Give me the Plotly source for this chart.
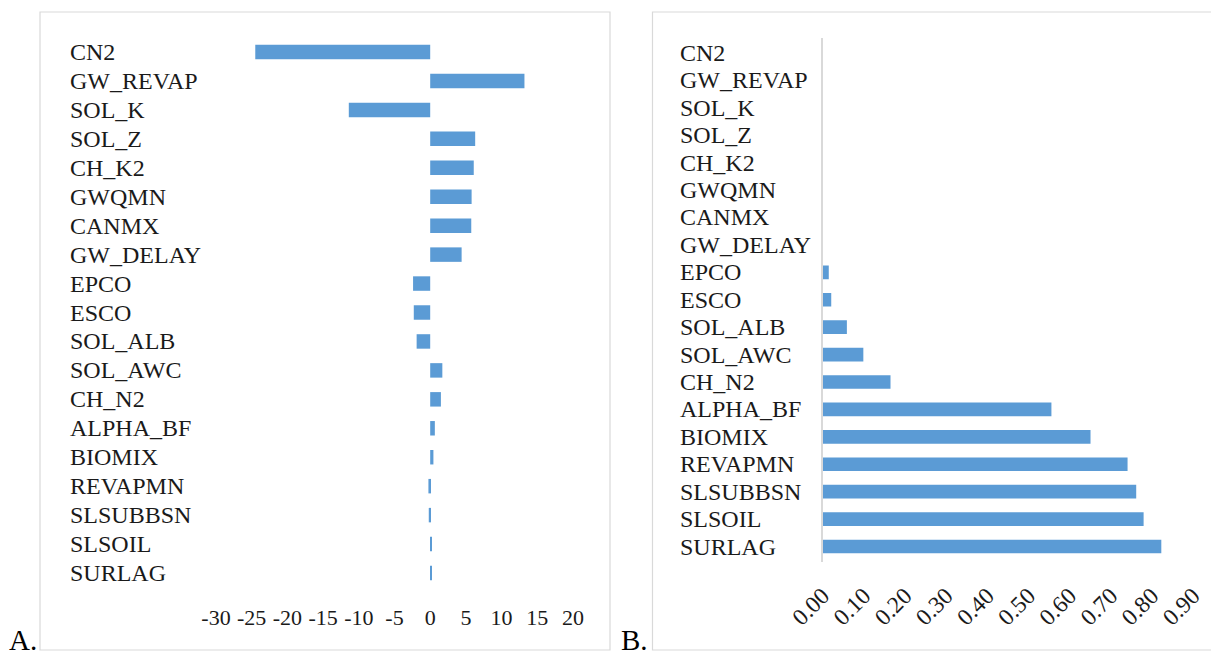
import plotly.graph_objects as go

W, H = 1211, 655

categories = ["CN2", "GW_REVAP", "SOL_K", "SOL_Z", "CH_K2", "GWQMN", "CANMX", "GW_DELAY",
              "EPCO", "ESCO", "SOL_ALB", "SOL_AWC", "CH_N2", "ALPHA_BF", "BIOMIX",
              "REVAPMN", "SLSUBBSN", "SLSOIL", "SURLAG"]
t_stat = [-24.5, 13.2, -11.4, 6.3, 6.1, 5.8, 5.75, 4.4,
          -2.4, -2.3, -1.9, 1.7, 1.5, 0.65, 0.45,
          -0.25, -0.2, 0.25, 0.2]
p_value = [0.0, 0.0, 0.0, 0.0, 0.0, 0.0, 0.0, 0.0,
           0.015, 0.021, 0.059, 0.099, 0.165, 0.556, 0.651,
           0.741, 0.762, 0.78, 0.823]
a_ticks = [-30, -25, -20, -15, -10, -5, 0, 5, 10, 15, 20]
a_ticktext = [str(v) for v in a_ticks]
b_ticks = [0.0, 0.1, 0.2, 0.3, 0.4, 0.5, 0.6, 0.7, 0.8, 0.9]

BLUE = "#5B9BD5"
TXT = "#1a1a1a"
FONT = "Liberation Serif"
GRID = "#d9d9d9"
CAT_SIZE = 24
TICK_SIZE = 22
BTICK_SIZE = 23.5

def px(x):
    return x / W

def py(y):
    return 1 - y / H

fig = go.Figure()
fig.add_trace(go.Bar(y=categories, x=t_stat, orientation="h", marker=dict(color=BLUE, line=dict(width=0)),
                     xaxis="x", yaxis="y", showlegend=False))
fig.add_trace(go.Bar(y=categories, x=p_value, orientation="h", marker=dict(color=BLUE, line=dict(width=0)),
                     xaxis="x2", yaxis="y2", showlegend=False))

fig.update_layout(
    width=W, height=H, margin=dict(l=0, r=0, t=0, b=0, autoexpand=False),
    paper_bgcolor="white", plot_bgcolor="white",
    bargap=0.5,
    font=dict(family=FONT, size=TICK_SIZE, color=TXT),
    xaxis=dict(domain=[px(216), px(573)], range=[-30, 20], tickvals=a_ticks, ticktext=a_ticktext,
               tickangle=0, automargin=False,
               showgrid=False, zeroline=False, showline=False, ticks="",
               ticklabelstandoff=14, tickfont=dict(size=TICK_SIZE, family=FONT, color=TXT), anchor="y"),
    yaxis=dict(domain=[py(588), py(37)], autorange="reversed", showticklabels=False, automargin=False,
               showgrid=False, zeroline=False, showline=False, anchor="x"),
    xaxis2=dict(domain=[px(822.6), px(1193)], range=[0, 0.9], tickvals=b_ticks, tickformat=".2f",
                tickangle=-45, automargin=False, showgrid=False, zeroline=False, showline=False, ticks="",
                ticklabelstandoff=15, tickfont=dict(size=BTICK_SIZE, family=FONT, color=TXT), anchor="y2"),
    yaxis2=dict(domain=[py(561.5), py(38)], autorange="reversed", showticklabels=False, automargin=False,
                showgrid=False, zeroline=False, showline=True, linecolor=GRID, linewidth=1.5, anchor="x2"),
)

annotations = []
for c in categories:
    annotations.append(dict(text=c, x=px(67.5), xref="paper", xanchor="left", y=c, yref="y",
                            yanchor="middle", showarrow=False, font=dict(size=CAT_SIZE, family=FONT, color=TXT)))
    annotations.append(dict(text=c, x=px(677.5), xref="paper", xanchor="left", y=c, yref="y2",
                            yanchor="middle", showarrow=False, font=dict(size=CAT_SIZE, family=FONT, color=TXT)))
annotations.append(dict(text="A.", x=px(7), y=py(658), xref="paper", yref="paper", xanchor="left",
                        yanchor="bottom", showarrow=False, font=dict(size=29, family=FONT, color="black")))
annotations.append(dict(text="B.", x=px(619), y=py(658), xref="paper", yref="paper", xanchor="left",
                        yanchor="bottom", showarrow=False, font=dict(size=29, family=FONT, color="black")))
fig.update_layout(annotations=annotations)

fig.update_layout(shapes=[
    dict(type="rect", xref="paper", yref="paper", x0=px(40), x1=px(610), y0=py(650), y1=py(12),
         line=dict(color=GRID, width=1.2), fillcolor="rgba(0,0,0,0)", layer="below"),
    dict(type="rect", xref="paper", yref="paper", x0=px(652.5), x1=px(1214), y0=py(650), y1=py(12),
         line=dict(color=GRID, width=1.2), fillcolor="rgba(0,0,0,0)", layer="below"),
])

fig.write_html("out.html", config={"displayModeBar": False},
               post_script="document.body.style.margin='0';document.body.style.overflow='hidden';")
